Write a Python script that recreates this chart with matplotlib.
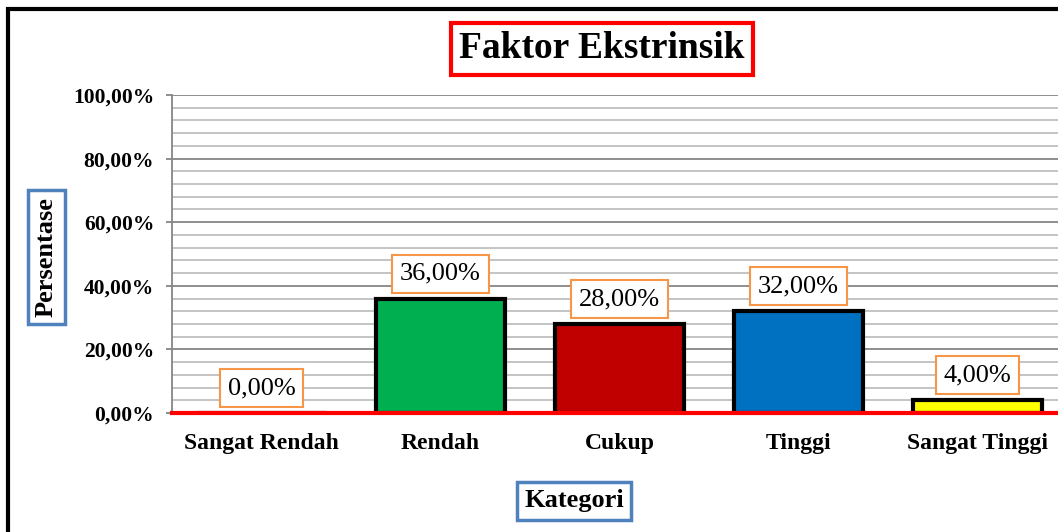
import matplotlib
matplotlib.use("Agg")
import matplotlib.pyplot as plt
from matplotlib.patches import Rectangle
import numpy as np

categories = ["Sangat Rendah", "Rendah", "Cukup", "Tinggi", "Sangat Tinggi"]
values = [0.0, 36.0, 28.0, 32.0, 4.0]
colors = ["#FFFFFF", "#00B050", "#C00000", "#0070C0", "#FFFF00"]
yticks = [0, 20, 40, 60, 80, 100]
title = "Faktor Ekstrinsik"
xlabel = "Kategori"
ylabel = "Persentase"

plt.rcParams['font.family'] = ['Liberation Serif', 'DejaVu Serif']

W, H = 1058, 532
fig = plt.figure(figsize=(W / 100, H / 100), dpi=100)

# outer black border (right/bottom cut off)
fig.patches.append(Rectangle((8 / W, -0.2), 1.3, 1.2 - 9 / H, transform=fig.transFigure,
                             fill=False, edgecolor='black', linewidth=3, zorder=10))

ax = fig.add_axes([172 / W, 1 - 413 / H, 895 / W, 318 / H])
x = np.arange(len(categories))
ax.set_xlim(-0.5, len(categories) - 0.5)
ax.set_ylim(0, 100)

# gridlines
ax.set_yticks(yticks)
ax.set_yticks(np.arange(0, 101, 4), minor=True)
ax.yaxis.grid(True, which='major', color='#868686', linewidth=1.3, zorder=0)
ax.yaxis.grid(True, which='minor', color='#BFBFBF', linewidth=1.3, zorder=0)
ax.set_axisbelow(True)
ax.tick_params(axis='y', which='minor', length=0)
ax.tick_params(axis='y', which='major', length=4.3, color='#868686', width=1.3, pad=8.5)
ax.set_yticklabels([f"{v:.2f}".replace('.', ',') + "%" for v in yticks],
                   fontsize=15.5, fontweight='bold')

ax.set_xticks(x)
ax.set_xticklabels(categories, fontsize=17, fontweight='bold')
ax.tick_params(axis='x', length=0, pad=14.5)

for s in ['top', 'right']:
    ax.spines[s].set_visible(False)
ax.spines['left'].set_color('#868686')
ax.spines['left'].set_linewidth(1.3)
ax.spines['bottom'].set_color('#FF0000')
ax.spines['bottom'].set_linewidth(3)
ax.spines['bottom'].set_zorder(5)

bars = ax.bar(x, values, width=0.726, color=colors, edgecolor='black', linewidth=3, zorder=3)

for xi, v in zip(x, values):
    ax.annotate(f"{v:.2f}".replace('.', ',') + "%", xy=(xi, v), xytext=(0, 10),
                textcoords='offset points', ha='center', va='bottom', fontsize=19,
                bbox=dict(boxstyle='square,pad=0.3', facecolor='white',
                          edgecolor='#F79646', linewidth=1.5), zorder=6)

fig.text(602 / W, 1 - 49 / H, title, ha='center', va='center', fontsize=27, fontweight='bold',
         bbox=dict(boxstyle='square,pad=0.22', facecolor='white', edgecolor='#FF0000', linewidth=3))
fig.text(46.5 / W, 1 - 257 / H, ylabel, ha='center', va='center', rotation=90, fontsize=19,
         fontweight='bold',
         bbox=dict(boxstyle='square,pad=0.25', facecolor='white', edgecolor='#4F81BD', linewidth=2.5))
fig.text(574 / W, 1 - 501 / H, xlabel, ha='center', va='center', fontsize=19, fontweight='bold',
         bbox=dict(boxstyle='square,pad=0.28', facecolor='white', edgecolor='#4F81BD', linewidth=2.5))

fig.savefig("out.png", dpi=100)
